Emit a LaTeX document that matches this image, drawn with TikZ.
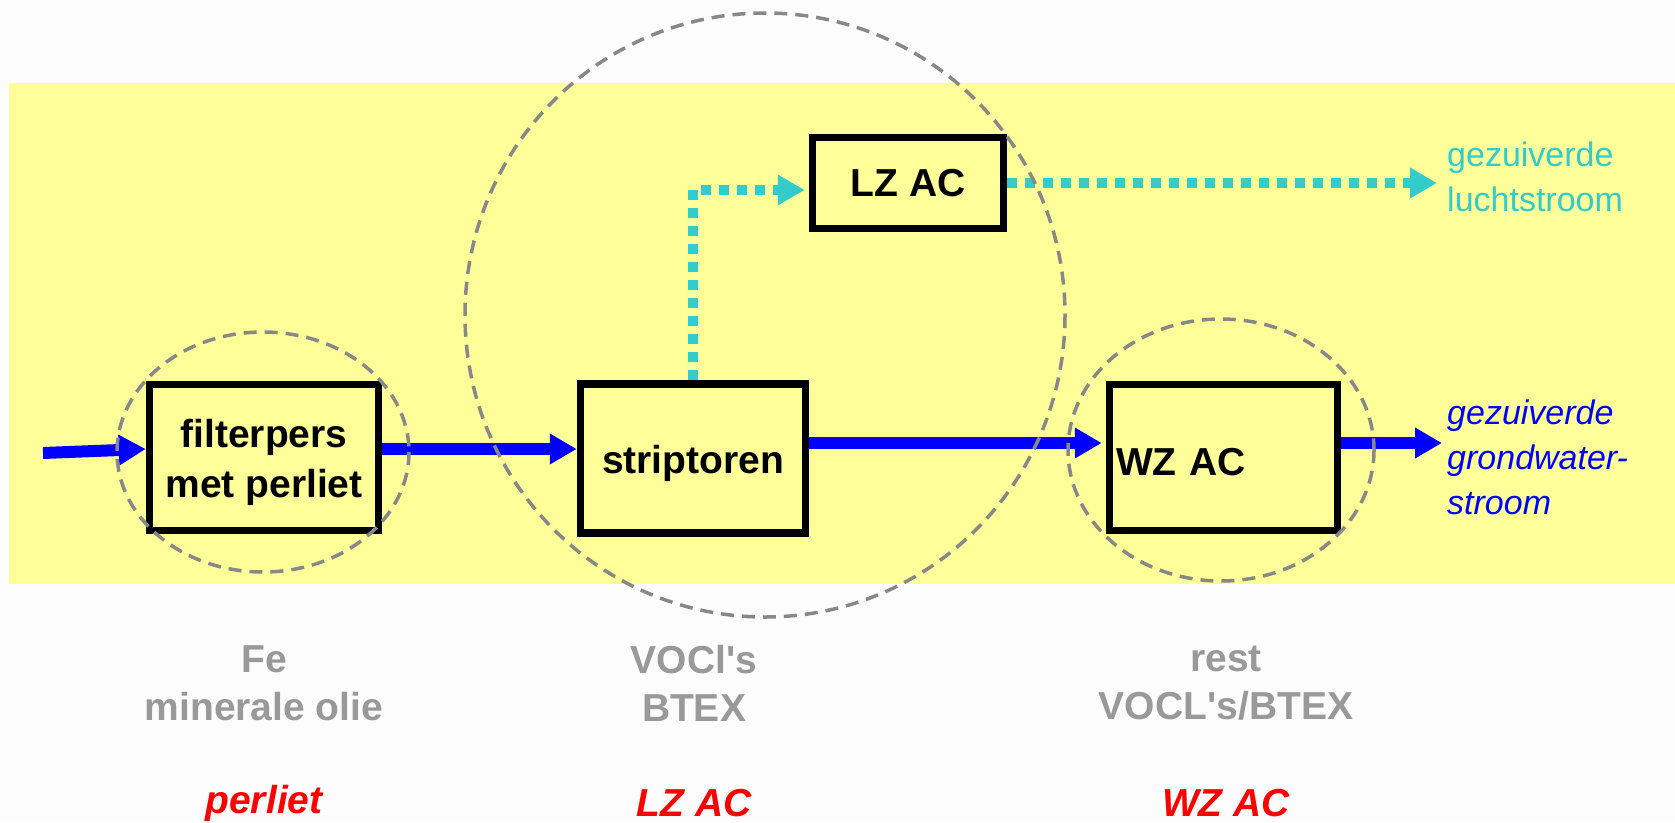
\documentclass[tikz,border=0pt]{standalone}
\usepackage{fontspec}
\setmainfont{Liberation Sans}
\usetikzlibrary{arrows.meta,calc}
\definecolor{bgyellow}{RGB}{255,255,153}
\definecolor{cyanline}{RGB}{51,204,204}
\definecolor{dashgray}{RGB}{136,136,136}
\definecolor{labelgray}{RGB}{153,153,153}
\definecolor{pagebg}{RGB}{252,252,252}
\newcommand{\lowertext}[1]{\raisebox{-5pt}[\height][\depth]{#1}}
\begin{document}
\begin{tikzpicture}[x=1pt,y=-1pt,
  box/.style={draw=black,line width=7.5pt,inner sep=0pt,align=center,
    font=\bfseries\fontsize{39}{50}\selectfont},
  flow/.style={draw=blue,line width=12pt,-{Triangle[length=27pt,width=29pt]}},
  airflow/.style={draw=cyanline,line width=10pt,dash pattern=on 10pt off 8pt,
    -{Triangle[length=27pt,width=29pt]}},
  zone/.style={draw=dashgray,line width=3.5pt,dash pattern=on 13pt off 8pt},
  graylabel/.style={text=labelgray,align=center,font=\bfseries\fontsize{39}{48}\selectfont},
  redlabel/.style={text=red,font=\bfseries\itshape\fontsize{39}{48}\selectfont},
  outlabel/.style={anchor=west,align=left,inner sep=0pt,font=\fontsize{34}{45}\selectfont}
]
\useasboundingbox (0,0) rectangle (1675,822);
\fill[pagebg] (0,0) rectangle (1675,822);
\fill[bgyellow] (9,83) rectangle (1675,584);

% boxes
\node[box,minimum width=229pt,minimum height=146pt] (filt) at (264,457.5)
  {\lowertext{\begin{tabular}{@{}c@{}}filterpers\\met perliet\end{tabular}}};
\node[box,minimum width=225pt,minimum height=149pt] (strip) at (693,458.5) {\lowertext{striptoren}};
\node[box,minimum width=191pt,minimum height=91pt] (lz) at (908,183) {LZ AC};
\node[box,minimum height=146pt,text width=215pt,inner xsep=6.5pt,align=left] (wz) at (1223.5,457.5) {\lowertext{WZ AC}};

% connectors
\coordinate (in) at (43,453);
\coordinate (gwout) at (1442,443);
\coordinate (airout) at (1437,183);
\draw[flow] (in) -- ($(filt.west)+(0,-8.5)$);
\draw[flow] ($(filt.east)+(0,-8.5)$) -- ($(strip.west)+(0,-9.5)$);
\draw[flow,shorten >=4pt] ($(strip.east)+(0,-15.5)$) -- ($(wz.west)+(0,-14.5)$);
\draw[flow] ($(wz.east)+(0,-14.5)$) -- (gwout);
\draw[airflow,shorten >=4pt] (strip.north) |- ($(lz.west)+(0,7)$);
\draw[airflow] (lz.east) -- (airout);

% output labels
\node[outlabel,text=cyanline] (lucht) at (1447,177) {gezuiverde\\luchtstroom};
\node[outlabel,text=blue,font=\itshape\fontsize{34}{45}\selectfont] (grond) at (1447,457) {gezuiverde\\grondwater-\\stroom};

% zones
\draw[zone] (263,452) ellipse [x radius=146, y radius=120];
\draw[zone] (765,315) ellipse [x radius=300, y radius=302];
\draw[zone] (1221,450) ellipse [x radius=153, y radius=131];

% bottom labels
\node[graylabel] (l1) at (264,683) {Fe\\minerale olie};
\node[graylabel] (l2) at (694,683) {VOCl\textquotesingle s\\BTEX};
\node[graylabel] (l3) at (1226,683) {rest\\VOCL\textquotesingle s/BTEX};
\node[redlabel] (r1) at (264,803) {perliet};
\node[redlabel] (r2) at (694,803) {LZ AC};
\node[redlabel] (r3) at (1226,803) {WZ AC};
\end{tikzpicture}
\end{document}
